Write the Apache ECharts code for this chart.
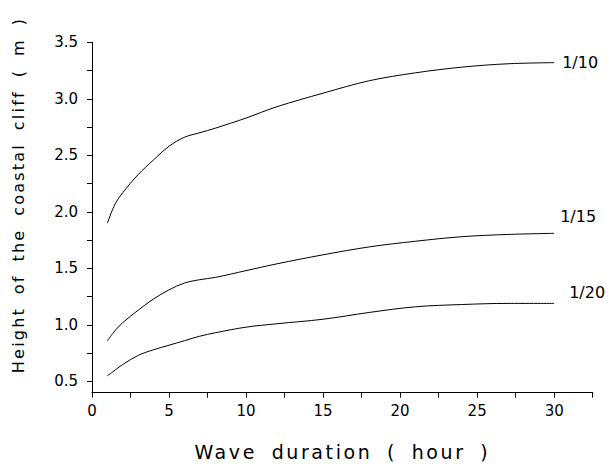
<!DOCTYPE html>
<html>
<head>
<meta charset="utf-8">
<script src="https://cdn.jsdelivr.net/npm/echarts@6/dist/echarts.min.js"></script>
<style>
  html, body { margin: 0; padding: 0; background: #fff; }
  #main { width: 610px; height: 464px; }
</style>
</head>
<body>
<div id="main"></div>
<script>
// wave duration (hour)
var hours = [1, 1.5, 2, 3, 4, 5, 6, 7, 8, 10, 12, 15, 18, 21, 24, 27, 30];
// cliff height (m) for each slope
var slope10 = [1.90, 2.07, 2.17, 2.33, 2.46, 2.58, 2.66, 2.70, 2.74, 2.83, 2.93, 3.05, 3.16, 3.23, 3.28, 3.31, 3.32];
var slope15 = [0.86, 0.95, 1.02, 1.13, 1.23, 1.31, 1.37, 1.40, 1.42, 1.48, 1.54, 1.62, 1.69, 1.74, 1.78, 1.80, 1.81];
var slope20 = [0.55, 0.60, 0.65, 0.73, 0.78, 0.82, 0.86, 0.90, 0.93, 0.98, 1.01, 1.05, 1.11, 1.16, 1.18, 1.19, 1.19];
var seriesNames = ['1/10', '1/15', '1/20'];

var xLabels = [0, 5, 10, 15, 20, 25, 30];
var xTicks = [0, 2.5, 5, 7.5, 10, 12.5, 15, 17.5, 20, 22.5, 25, 27.5, 30, 32.5];
var yLabels = [0.5, 1.0, 1.5, 2.0, 2.5, 3.0, 3.5];
var yTicks = [0.5, 0.75, 1.0, 1.25, 1.5, 1.75, 2.0, 2.25, 2.5, 2.75, 3.0, 3.25, 3.5];

var xName = 'Wave duration ( hour )';
var yName = 'Height of the coastal cliff ( m )';

function pairs(ys) {
    var out = [];
    for (var i = 0; i < hours.length; i++) {
        out.push([hours[i], ys[i]]);
    }
    return out;
}

var font = 'DejaVu Sans';
var labelOffsets = [[0, 0], [-2, -17], [7, -11]];
var allData = [slope10, slope15, slope20];

var myChart = echarts.init(document.getElementById('main'), null, { renderer: 'svg' });
myChart.setOption({
    animation: false,
    backgroundColor: '#fff',
    grid: {
        left: 92,
        right: 17.3,
        top: 42.3,
        bottom: 71.3,
        containLabel: false,
        outerBoundsMode: 'none'
    },
    xAxis: {
        type: 'value',
        min: 0,
        max: 32.5,
        name: xName,
        nameLocation: 'middle',
        nameGap: 50,
        nameTextStyle: { fontFamily: font, fontSize: 19, color: '#000' },
        axisLine: { lineStyle: { color: '#000', width: 1 } },
        axisTick: { show: true, inside: false, length: 5, customValues: xTicks, lineStyle: { color: '#000' } },
        axisLabel: { customValues: xLabels, margin: 11, fontFamily: font, fontSize: 15, color: '#000' },
        splitLine: { show: false }
    },
    yAxis: {
        type: 'value',
        min: 0.4,
        max: 3.5,
        name: yName,
        nameLocation: 'middle',
        nameRotate: 90,
        nameGap: 66,
        nameTextStyle: { fontFamily: font, fontSize: 16, color: '#000', padding: [0, 0, 0, 45] },
        axisLine: { show: true, lineStyle: { color: '#000', width: 1 } },
        axisTick: { show: true, inside: false, length: 5, customValues: yTicks, lineStyle: { color: '#000' } },
        axisLabel: {
            customValues: yLabels, margin: 14, fontFamily: font, fontSize: 15, color: '#000',
            formatter: function (v) { return v.toFixed(1); }
        },
        splitLine: { show: false }
    },
    series: seriesNames.map(function (name, i) {
        return {
            name: name,
            type: 'line',
            data: pairs(allData[i]),
            smooth: 0.35,
            symbol: 'none',
            lineStyle: { color: '#000', width: 1 },
            endLabel: {
                show: true,
                formatter: name,
                distance: 8,
                offset: labelOffsets[i],
                fontFamily: font,
                fontSize: 16,
                color: '#000'
            }
        };
    })
});

// spread out the axis titles like the original plot lettering
var texts = document.querySelectorAll('#main text');
for (var k = 0; k < texts.length; k++) {
    var s = texts[k].textContent;
    if (s === xName) {
        texts[k].style.letterSpacing = '2.6px';
        texts[k].style.wordSpacing = '6px';
    } else if (s === yName) {
        texts[k].style.letterSpacing = '2.2px';
        texts[k].style.wordSpacing = '5.6px';
    }
}
</script>
</body>
</html>
